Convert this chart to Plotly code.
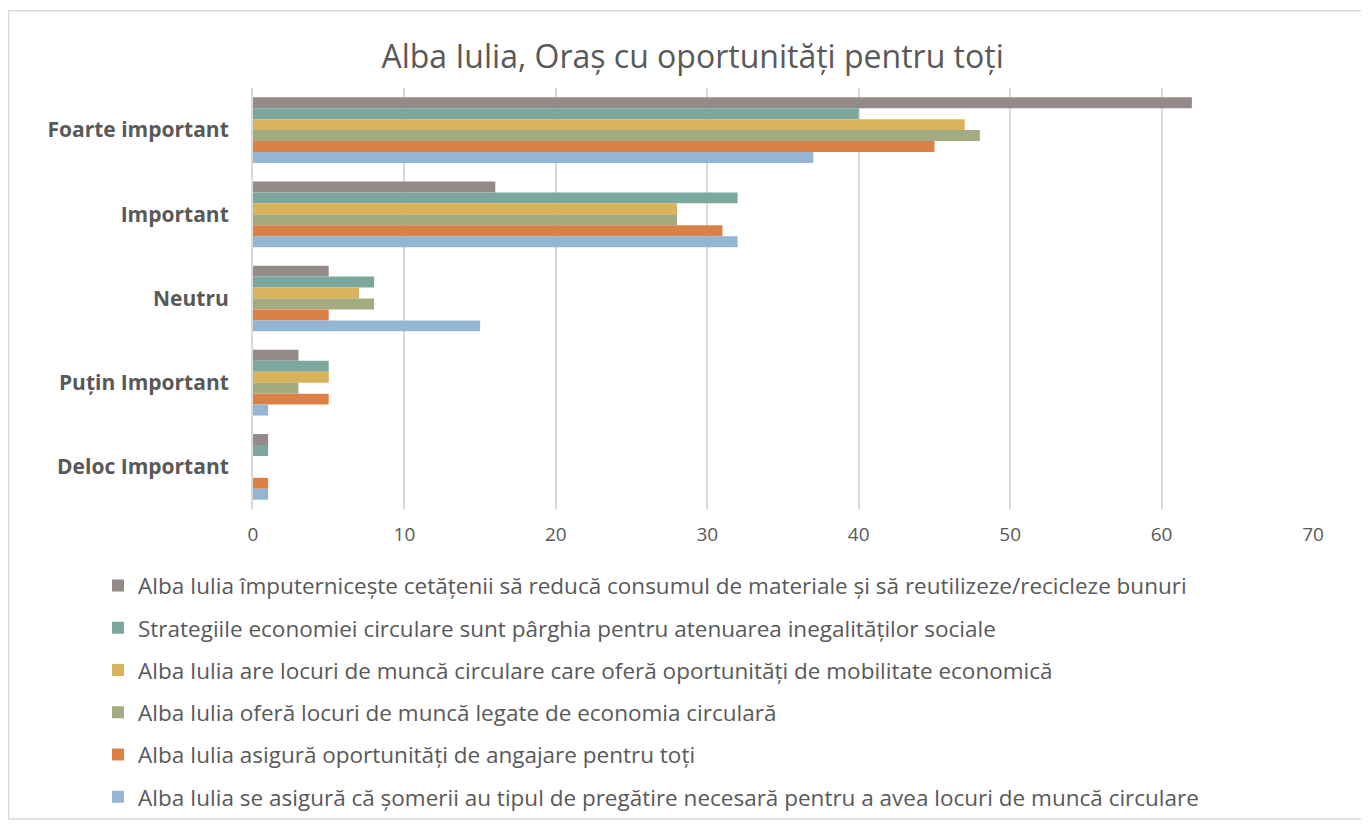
import plotly.graph_objects as go

FONT = "Open Sans"
TEXT_COLOR = "#595959"

categories = ["Foarte important", "Important", "Neutru", "Puțin Important", "Deloc Important"]

series_names = [
    "Alba Iulia împuternicește cetățenii să reducă consumul de materiale și să reutilizeze/recicleze bunuri",
    "Strategiile economiei circulare sunt pârghia pentru atenuarea inegalităților sociale",
    "Alba Iulia are locuri de muncă circulare care oferă oportunități de mobilitate economică",
    "Alba Iulia oferă locuri de muncă legate de economia circulară",
    "Alba Iulia asigură oportunități de angajare pentru toți",
    "Alba Iulia se asigură că șomerii au tipul de pregătire necesară pentru a avea locuri de muncă circulare",
]

empowers_citizens = [62, 16, 5, 3, 1]
reduce_inequality = [40, 32, 8, 5, 1]
mobility_jobs = [47, 28, 7, 5, 0]
circular_jobs = [48, 28, 8, 3, 0]
employment_for_all = [45, 31, 5, 5, 1]
unemployed_training = [37, 32, 15, 1, 1]

series_values = [
    empowers_citizens, reduce_inequality, mobility_jobs,
    circular_jobs, employment_for_all, unemployed_training,
]
colors = ["#948A89", "#7BA79D", "#D8B25C", "#A5AB81", "#DD8047", "#94B6D2"]

# page body has an 8px margin, so the figure is a bit smaller than the window
W, H = 1361, 823
L, R, T, B = 245, 56, 80, 318
PW, PH = W - L - R, H - T - B

fig = go.Figure()
for i, (name, vals, col) in enumerate(zip(series_names, series_values, colors)):
    fig.add_trace(go.Bar(
        y=categories, x=vals, name=name, orientation="h",
        marker=dict(color=col, line=dict(width=0)),
        legendgroup=f"g{i}",
    ))

fig.update_layout(
    barmode="group",
    bargap=0.22,
    bargroupgap=0,
    width=W, height=H,
    paper_bgcolor="white", plot_bgcolor="white",
    margin=dict(l=L, r=R, t=T, b=B),
    font=dict(family=FONT, color=TEXT_COLOR),
    title=dict(
        text="Alba Iulia, Oraș cu oportunități pentru toți",
        x=0.503, xref="container", xanchor="center",
        y=1 - 49 / H, yref="container", yanchor="middle",
        font=dict(size=32, color=TEXT_COLOR),
    ),
    legend=dict(
        orientation="v", x=(90 - L) / PW, xanchor="left",
        y=(T + PH - 561) / PH, yanchor="top",
        traceorder="grouped", tracegroupgap=10,
        font=dict(size=22.5, color=TEXT_COLOR),
        itemwidth=30,
    ),
)

fig.update_xaxes(
    range=[0, 70], dtick=10, showgrid=True, gridcolor="#D9D9D9", gridwidth=1.5,
    zeroline=False, showline=False, ticks="", ticklabelstandoff=12,
    tickfont=dict(size=19, color=TEXT_COLOR),
)
fig.update_yaxes(
    autorange="reversed", showline=True, linecolor="#D9D9D9", linewidth=2,
    ticks="", ticklabelstandoff=18,
    tickfont=dict(size=21, color=TEXT_COLOR, weight="bold"),
)

# chart border
fig.add_shape(
    type="rect", xref="paper", yref="paper",
    x0=(0.5 - L) / PW, x1=(1357 - L) / PW,
    y0=(T + PH - 818) / PH, y1=(T + PH - 2) / PH,
    line=dict(color="#D9D9D9", width=1.5), layer="below",
)

fig.write_html("out.html")
